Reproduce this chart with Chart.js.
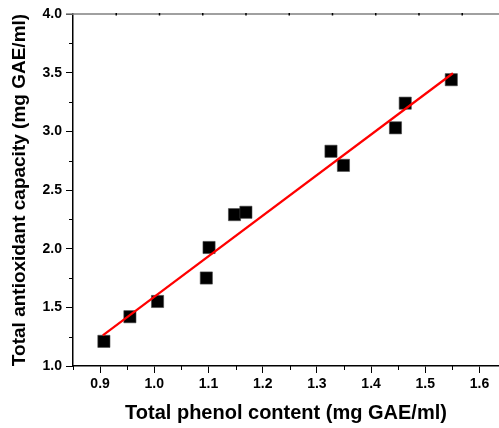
<!DOCTYPE html>
<html>
<head>
<meta charset="utf-8">
<script src="https://cdn.jsdelivr.net/npm/chart.js@4/dist/chart.umd.min.js"></script>
<style>
  html, body { margin: 0; padding: 0; background: #fff; overflow: hidden; }
  #wrap { width: 499px; height: 428px; }
</style>
</head>
<body>
<div id="wrap"><canvas id="chart" width="499" height="428"></canvas></div>
<script>
// measured points
const phenol = [0.907, 0.955, 1.006, 1.096, 1.101, 1.148, 1.169, 1.326, 1.349, 1.445, 1.463, 1.548];
const antioxidant = [1.21, 1.42, 1.55, 1.75, 2.01, 2.29, 2.31, 2.83, 2.71, 3.03, 3.24, 3.44];

// fitted line end points
const fitX = [0.905, 1.551];
const fitY = [1.262, 3.495];

// the plot is cut at the right edge of the image
const xRange = [0.85, 1.636];
const yRange = [1.0, 4.0];
const xMajorTicks = [0.9, 1.0, 1.1, 1.2, 1.3, 1.4, 1.5, 1.6];
const yMajorTicks = [1.0, 1.5, 2.0, 2.5, 3.0, 3.5, 4.0];
const xMinorTicks = [0.85, 0.95, 1.05, 1.15, 1.25, 1.35, 1.45, 1.55];
const yMinorTicks = [1.25, 1.75, 2.25, 2.75, 3.25, 3.75];
const topTicks = [1, 2, 3, 4, 5, 6, 7, 8, 9];

const FONT = "'Liberation Sans', Arial, sans-serif";

// minor ticks + the grey top frame line
const frame = {
  id: 'frame',
  afterDraw(chart) {
    const { ctx, chartArea, scales } = chart;
    ctx.save();
    ctx.strokeStyle = '#000';
    ctx.lineWidth = 1;
    ctx.beginPath();
    xMinorTicks.forEach(v => {
      const px = Math.round(scales.x.getPixelForValue(v)) + 0.5;
      ctx.moveTo(px, chartArea.bottom);
      ctx.lineTo(px, chartArea.bottom + 4);
    });
    yMinorTicks.forEach(v => {
      const py = Math.round(scales.y.getPixelForValue(v)) + 0.5;
      ctx.moveTo(chartArea.left, py);
      ctx.lineTo(chartArea.left - 4, py);
    });
    ctx.stroke();

    ctx.strokeStyle = '#808080';
    ctx.lineWidth = 1.5;
    ctx.beginPath();
    ctx.moveTo(chartArea.left - 7, chartArea.top);
    ctx.lineTo(chartArea.right, chartArea.top);
    ctx.stroke();

    ctx.strokeStyle = '#000';
    ctx.lineWidth = 1.5;
    ctx.beginPath();
    topTicks.forEach(v => {
      const px = scales.xTop.getPixelForValue(v);
      ctx.moveTo(px, chartArea.top - 1);
      ctx.lineTo(px, chartArea.top + 1.5);
    });
    ctx.stroke();
    ctx.restore();
  }
};

new Chart(document.getElementById('chart'), {
  type: 'scatter',
  data: {
    datasets: [
      {
        label: 'data',
        data: phenol.map((x, i) => ({ x: x, y: antioxidant[i] })),
        pointStyle: 'rect',
        pointRadius: 8.6,
        pointHoverRadius: 8.6,
        backgroundColor: '#000',
        borderColor: '#444',
        borderWidth: 0.6,
        order: 2
      },
      {
        label: 'fit',
        type: 'line',
        data: fitX.map((x, i) => ({ x: x, y: fitY[i] })),
        borderColor: '#ff0000',
        borderWidth: 2.2,
        pointRadius: 0,
        fill: false,
        order: 1
      }
    ]
  },
  options: {
    responsive: false,
    animation: false,
    layout: { autoPadding: false, padding: { top: 14, left: 0, right: 0, bottom: 0 } },
    plugins: {
      legend: { display: false },
      tooltip: { enabled: false }
    },
    scales: {
      x: {
        type: 'linear',
        position: 'bottom',
        min: xRange[0],
        max: xRange[1],
        afterFit: s => {
          s.height = 62;
          s.paddingLeft = 0;
          s.paddingRight = 0;
        },
        afterBuildTicks: s => {
          s.ticks = xMajorTicks.map(v => ({ value: v }));
        },
        ticks: {
          color: '#000',
          font: { family: FONT, size: 14, weight: 'bold' },
          padding: 3,
          maxRotation: 0,
          callback: v => v.toFixed(1)
        },
        grid: { drawOnChartArea: false, tickLength: 7, color: '#000', tickWidth: 1 },
        border: { color: '#000', width: 1.5 },
        title: {
          display: true,
          text: 'Total phenol content (mg GAE/ml)',
          color: '#000',
          font: { family: FONT, size: 20, weight: 'bold' },
          padding: { top: 0, bottom: 3 }
        }
      },
      xTop: {
        type: 'linear',
        position: 'top',
        display: false,
        min: 0,
        max: 9.85
      },
      y: {
        type: 'linear',
        min: yRange[0],
        max: yRange[1],
        afterFit: s => {
          s.width = 73;
          s.paddingTop = 0;
          s.paddingBottom = 0;
        },
        afterBuildTicks: s => {
          s.ticks = yMajorTicks.map(v => ({ value: v }));
        },
        ticks: {
          color: '#000',
          font: { family: FONT, size: 14, weight: 'bold' },
          padding: 4,
          callback: v => v.toFixed(1)
        },
        grid: { drawOnChartArea: false, tickLength: 7, color: '#000', tickWidth: 1 },
        border: { color: '#000', width: 1.5 },
        title: {
          display: true,
          text: 'Total antioxidant capacity (mg GAE/ml)',
          color: '#000',
          font: { family: FONT, size: 19, weight: 'bold' },
          padding: { top: 8.5, bottom: 0 }
        }
      }
    }
  },
  plugins: [frame]
});
</script>
</body>
</html>
